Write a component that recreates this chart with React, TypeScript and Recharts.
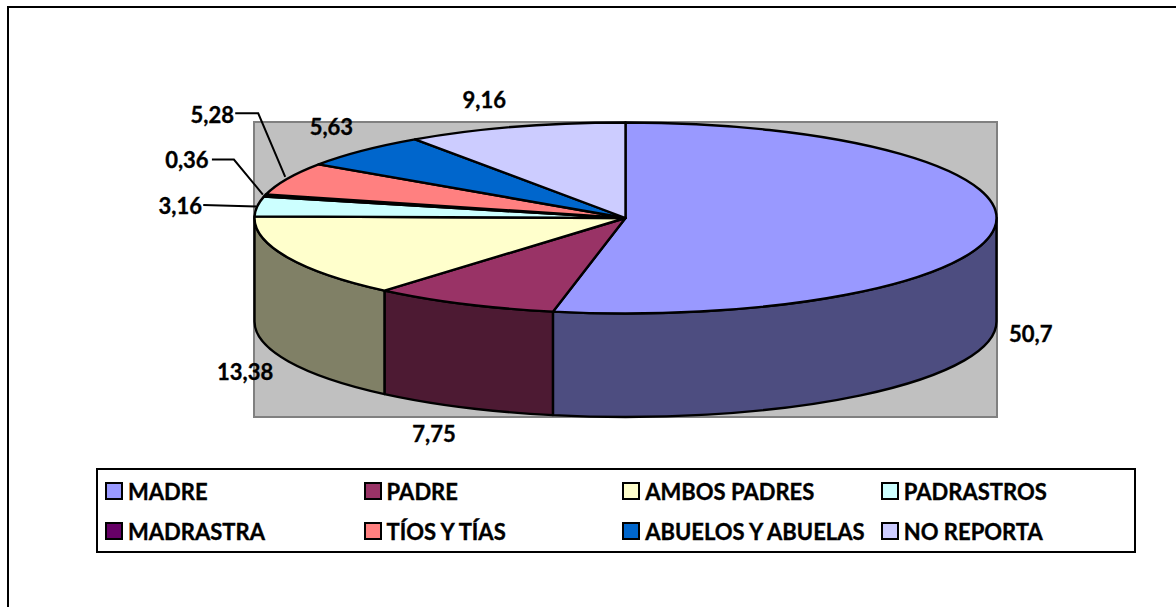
import React from "react";
import { PieChart, Pie, Legend } from "recharts";

const CATEGORIES = ["MADRE", "PADRE", "AMBOS PADRES", "PADRASTROS", "MADRASTRA", "TÍOS Y TÍAS", "ABUELOS Y ABUELAS", "NO REPORTA"];
const VALUES = [50.7, 7.75, 13.38, 3.16, 0.36, 5.28, 5.63, 9.16];
const TOP_COLORS = ["#9999FF", "#993366", "#FFFFCC", "#CCFFFF", "#660066", "#FF8080", "#0066CC", "#CCCCFF"];
const SIDE_COLORS = ["#4D4D80", "#4D1A33", "#808066", "#668080", "#330033", "#804040", "#003366", "#666680"];

const data = CATEGORIES.map((name, i) => ({ name, value: VALUES[i], fill: TOP_COLORS[i], side: SIDE_COLORS[i] }));

const CX = 625.5;
const CY = 218;
const RX = 371;
const RATIO = 95.5 / 371;
const DEPTH = 103.5;
const FONT = "Lato, 'Open Sans', sans-serif";
const FONT_SIZE = 22;

const LABEL_OFFSETS: number[][] = [[36, 106], [-29.5, 130], [-42, 114.5], [-77, -0.5], [-78, -36], [-75, -64.5], [-31, -24], [-31, -27]];
const LEADERS: Record<number, number[][]> = {
  3: [[-54, -1.5], [-1, 0]],
  4: [[-53, -36], [-31, -36], [-2, -1]],
  5: [[-52, -65.5], [-29, -65.5], [-2, -2]],
};

const pt = (cx: number, cy: number, r: number, deg: number) => {
  const a = (deg * Math.PI) / 180;
  return [cx + r * Math.cos(a), cy - r * RATIO * Math.sin(a)];
};

const TopSector = (p: any) => {
  const { cx, cy, outerRadius: r, startAngle, endAngle, fill } = p;
  const [x1, y1] = pt(cx, cy, r, startAngle);
  const [x2, y2] = pt(cx, cy, r, endAngle);
  const large = Math.abs(startAngle - endAngle) > 180 ? 1 : 0;
  return (
    <path
      d={`M${cx},${cy} L${x1},${y1} A${r},${r * RATIO} 0 ${large} 1 ${x2},${y2} Z`}
      fill={fill}
      stroke="#000"
      strokeWidth={2.4}
      strokeLinejoin="round"
    />
  );
};

const SideSector = (p: any) => {
  const { cx, cy, outerRadius: r, startAngle, endAngle, payload } = p;
  const s = Math.min(startAngle, 0);
  const e = Math.max(endAngle, -180);
  if (s <= e) return <g />;
  const [x1, y1] = pt(cx, cy, r, s);
  const [x2, y2] = pt(cx, cy, r, e);
  const ry = r * RATIO;
  return (
    <path
      d={`M${x1},${y1} A${r},${ry} 0 0 1 ${x2},${y2} L${x2},${y2 + DEPTH} A${r},${ry} 0 0 0 ${x1},${y1 + DEPTH} Z`}
      fill={payload?.side ?? p.side}
      stroke="#000"
      strokeWidth={2.4}
      strokeLinejoin="round"
    />
  );
};

const renderLabel = (p: any) => {
  const { cx, cy, outerRadius: r, midAngle, index, value } = p;
  const [ax, ay] = pt(cx, cy, r, midAngle);
  const [dx, dy] = LABEL_OFFSETS[index];
  const leader = LEADERS[index];
  return (
    <g key={index}>
      {leader && (
        <polyline
          points={leader.map(([lx, ly]) => `${ax + lx},${ay + ly}`).join(" ")}
          fill="none"
          stroke="#000"
          strokeWidth={2}
        />
      )}
      <text
        x={ax + dx}
        y={ay + dy}
        textAnchor="middle"
        dominantBaseline="central"
        fontFamily={FONT}
        fontWeight={700}
        fontSize={FONT_SIZE}
        fill="#000"
        stroke="#000"
        strokeWidth={0.35}
      >
        {String(value).replace(".", ",")}
      </text>
    </g>
  );
};

const LegendBox = () => (
  <div
    style={{
      boxSizing: "border-box",
      width: 1040,
      height: 85,
      border: "2px solid #000",
      background: "#fff",
      display: "grid",
      gridTemplateColumns: "258.6px 258.6px 258.6px 258.6px",
      gridTemplateRows: "40px 40px",
      padding: "1px 0 0 7px",
      fontFamily: FONT,
      fontWeight: 700,
      fontSize: FONT_SIZE,
      color: "#000",
      WebkitTextStroke: "0.35px #000",
    }}
  >
    {data.map((d) => (
      <div key={d.name} style={{ display: "flex", alignItems: "center", whiteSpace: "nowrap" }}>
        <span style={{ boxSizing: "border-box", width: 18, height: 18, border: "2px solid #000", background: d.fill, marginRight: 5, flex: "none" }} />
        {d.name}
      </div>
    ))}
  </div>
);

export default function App() {
  return (
    <div style={{ position: "absolute", left: 0, top: 0, width: 1176, height: 607, overflow: "hidden", background: "#fff" }}>
      <div style={{ position: "absolute", left: 7, top: 6, width: 1169, height: 601, borderTop: "2px solid #000", borderLeft: "2px solid #000", boxSizing: "border-box" }} />
      <div style={{ position: "absolute", left: 253, top: 121, width: 745, height: 297, boxSizing: "border-box", background: "#C0C0C0", border: "2px solid #808080" }} />
      <div style={{ position: "absolute", left: 0, top: 0 }}>
        <PieChart width={1176} height={607} margin={{ top: 0, right: 0, bottom: 0, left: 0 }}>
          <Pie
            data={data}
            dataKey="value"
            nameKey="name"
            cx={CX}
            cy={CY}
            innerRadius={0}
            outerRadius={RX}
            startAngle={90}
            endAngle={-270}
            stroke="none"
            legendType="none"
            isAnimationActive={false}
            shape={SideSector}
          />
          <Pie
            data={data}
            dataKey="value"
            nameKey="name"
            cx={CX}
            cy={CY}
            innerRadius={0}
            outerRadius={RX}
            startAngle={90}
            endAngle={-270}
            isAnimationActive={false}
            shape={TopSector}
            label={renderLabel}
            labelLine={false}
          />
          <Legend content={<LegendBox />} wrapperStyle={{ position: "absolute", left: 96, top: 468, width: 1040, bottom: "auto" }} />
        </PieChart>
      </div>
    </div>
  );
}
